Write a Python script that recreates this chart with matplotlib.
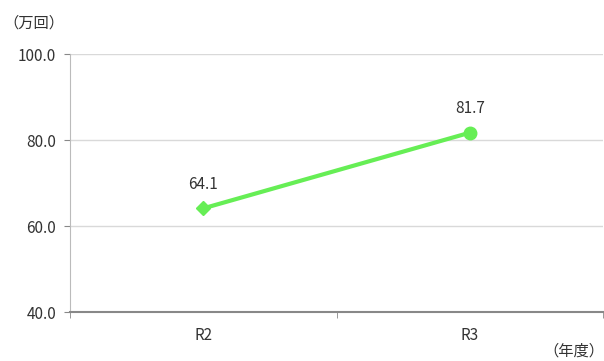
import matplotlib
matplotlib.use("Agg")
import matplotlib.pyplot as plt

plt.rcParams['font.family'] = ['Noto Sans CJK JP', 'DejaVu Sans']

categories = ["R2", "R3"]
values = [64.1, 81.7]
y_ticks = [40.0, 60.0, 80.0, 100.0]

fig = plt.figure(figsize=(6.04, 3.61), dpi=100)
ax = fig.add_axes([0.1159, 0.1357, 0.8825, 0.7147])

x = list(range(len(categories)))
green = "#66EE55"
ax.plot(x, values, color=green, lw=3, zorder=3, solid_capstyle="round")
ax.plot(x[0], values[0], marker="D", ms=7, color=green, zorder=4, ls="none")
ax.plot(x[1], values[1], marker="o", ms=9, color=green, zorder=4, ls="none")

for xi, v in zip(x, values):
    ax.annotate(f"{v:.1f}", (xi, v), xytext=(0, 11), textcoords="offset points",
                ha="center", va="bottom", fontsize=11, color="#333333")

ax.set_xlim(-0.5, len(categories) - 0.5)
ax.set_ylim(y_ticks[0], y_ticks[-1])
ax.set_yticks(y_ticks)
ax.set_yticklabels([f"{t:.1f}" for t in y_ticks], fontsize=11, color="#333333")
ax.set_xticks(x)
ax.set_xticklabels(categories, fontsize=11, color="#333333")
ax.tick_params(axis="x", length=0, pad=11)
ax.set_xticks([i - 0.5 for i in range(len(categories) + 1)], minor=True)
ax.tick_params(axis="x", which="minor", length=4, color="#888888", direction="out")
ax.tick_params(axis="y", length=4, color="#888888", pad=6)

ax.grid(axis="y", color="#d9d9d9", lw=1)
ax.set_axisbelow(True)
for s in ["top", "right"]:
    ax.spines[s].set_visible(False)
ax.spines["left"].set_color("#bbbbbb")
ax.spines["bottom"].set_color("#888888")
ax.spines["bottom"].set_linewidth(1.5)

fig.text(0.005, 0.935, "（万回）", fontsize=11, color="#333333", ha="left", va="center")
fig.text(1.0, 0.028, "（年度）", fontsize=11, color="#333333", ha="right", va="center")

fig.savefig("out.png", dpi=100)
